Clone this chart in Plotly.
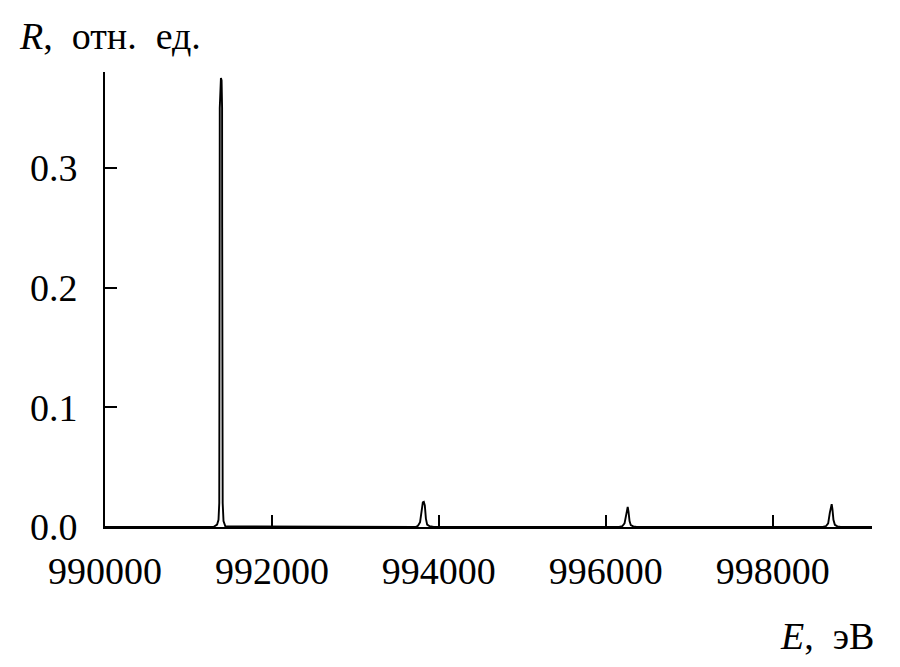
import plotly.graph_objects as go

# Spectrum samples (E in eV, R in relative units)
energy = [
    990000, 991300, 991343, 991360, 991369, 991372, 991374, 991375, 991381, 991389,
    991397, 991403, 991404, 991406, 991410, 991420, 991442, 993720,
    993750, 993775, 993795, 993808, 993820, 993832, 993845, 993860, 993890, 993940,
    996160, 996200, 996225, 996242, 996255, 996263, 996272, 996285, 996300, 996330, 996370,
    998600, 998640, 998665, 998685, 998698, 998707, 998716, 998728, 998745, 998775, 998815,
    999190,
]
reflect = [
    0.0, 0.0, 0.002, 0.006, 0.02, 0.08, 0.25, 0.35, 0.373, 0.375,
    0.373, 0.35, 0.25, 0.08, 0.02, 0.005, 0.0005, 0.0,
    0.001, 0.004, 0.014, 0.0205, 0.021, 0.018, 0.007, 0.002, 0.0006, 0.0,
    0.0, 0.0008, 0.003, 0.011, 0.0162, 0.0167, 0.013, 0.005, 0.0015, 0.0005, 0.0,
    0.0, 0.0008, 0.003, 0.012, 0.0185, 0.019, 0.015, 0.006, 0.0018, 0.0005, 0.0,
    0.0,
]

x_tick_vals = [990000, 992000, 994000, 996000, 998000]
x_tick_text = ["990000", "992000", "994000", "996000", "998000"]
y_tick_vals = [0.0, 0.1, 0.2, 0.3]
y_tick_text = ["0.0", "0.1", "0.2", "0.3"]

FONT = "Liberation Serif, Times New Roman, serif"
FS = 38

fig = go.Figure()
fig.add_trace(go.Scatter(x=energy, y=reflect, mode="lines",
                         line=dict(color="black", width=1.9),
                         showlegend=False, hoverinfo="skip"))

fig.update_layout(
    width=900, height=667,
    margin=dict(l=97, r=36, t=64, b=148),
    paper_bgcolor="white", plot_bgcolor="white",
    font=dict(family=FONT, size=FS, color="black"),
    xaxis=dict(range=[990000, 999190], showgrid=False, zeroline=False,
               showline=True, linecolor="black", linewidth=2,
               ticks="inside", ticklen=12, tickwidth=2, tickcolor="black",
               tickvals=x_tick_vals, ticktext=x_tick_text,
               tickfont=dict(family=FONT, size=FS), ticklabelstandoff=9),
    yaxis=dict(range=[0, 0.380], showgrid=False, zeroline=False,
               showline=True, linecolor="black", linewidth=2,
               ticks="inside", ticklen=12, tickwidth=2, tickcolor="black",
               tickvals=y_tick_vals, ticktext=y_tick_text,
               tickfont=dict(family=FONT, size=FS), ticklabelstandoff=18),
    annotations=[
        dict(text="<i>R</i>,\u00a0 отн.\u00a0 ед.", xref="paper", yref="paper",
             x=0, y=1, xanchor="left", yanchor="middle",
             xshift=-88, yshift=36, showarrow=False,
             font=dict(family=FONT, size=FS, color="black")),
        dict(text="<i>E</i>,\u00a0 эВ", xref="paper", yref="paper",
             x=1, y=0, xanchor="right", yanchor="middle",
             xshift=4, yshift=-109, showarrow=False,
             font=dict(family=FONT, size=FS, color="black")),
    ],
)

fig.write_html("out.html")
